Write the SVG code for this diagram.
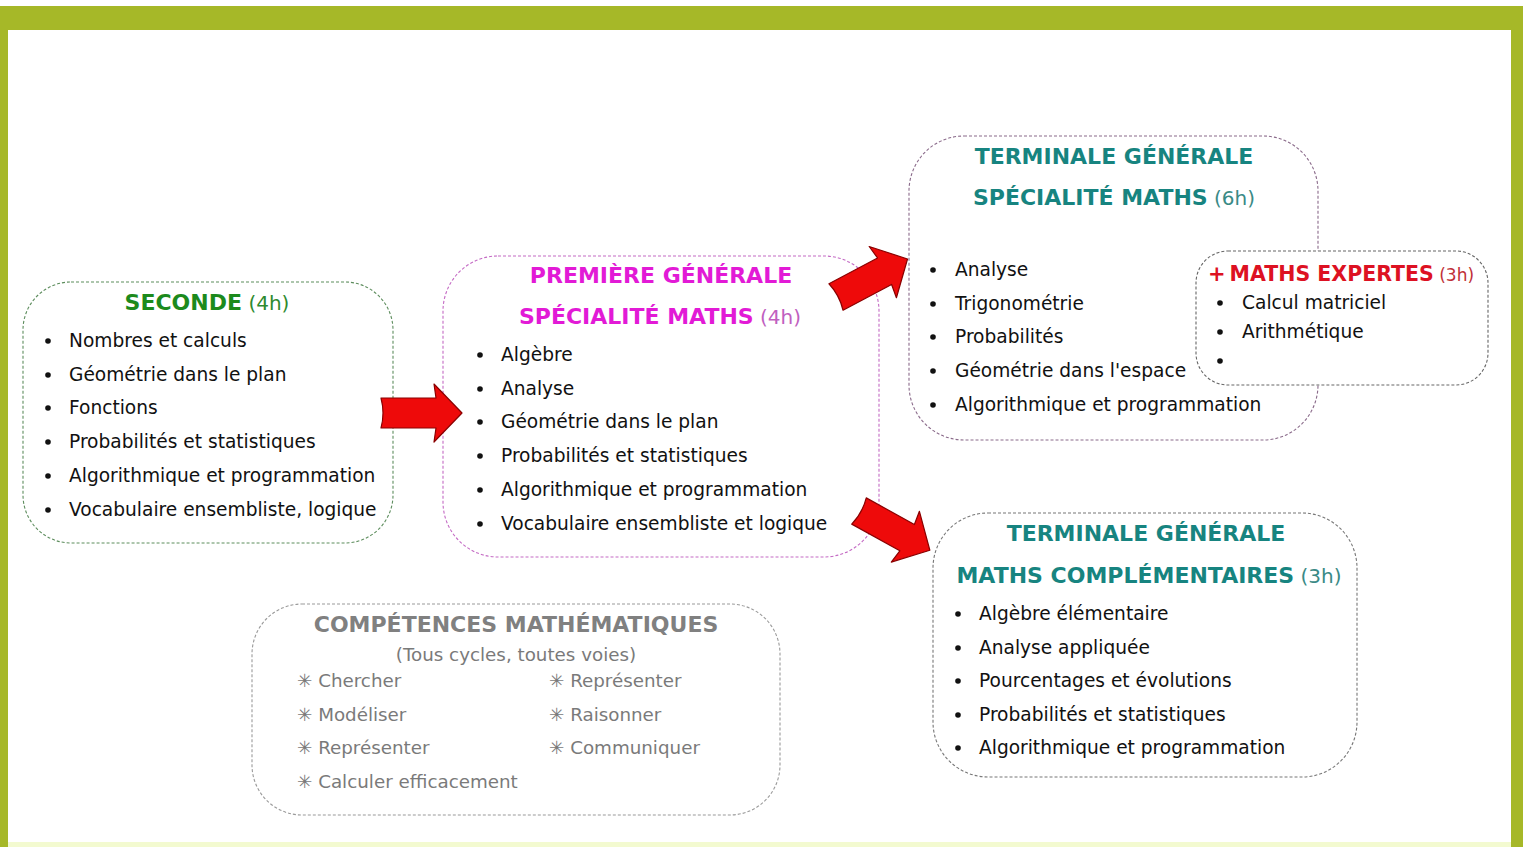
<svg xmlns="http://www.w3.org/2000/svg" width="1523" height="847" viewBox="0 0 1523 847">
<style>
text{font-family:"DejaVu Sans","Verdana",sans-serif}
.it{font-size:18.6px;fill:#111}
.hd{font-size:22px;font-weight:bold}
.hr{font-size:20px;font-weight:normal}
.box{fill:#fff;stroke-width:1.1;stroke-dasharray:3 2}
.bul{fill:#111}
.arrow{fill:#ee0a0a;stroke:#8a0000;stroke-width:1.2;stroke-linejoin:round}
.cp{font-size:18.3px;fill:#7a7a7a}
</style>
<defs>
<path id="arr" d="M0,-15 L55,-15 L53,-29 L81,0 L53,29 L55,15 L0,15 Q4,0 0,-15 Z"/>
</defs>
<rect x="0" y="0" width="1523" height="847" fill="#fff"/>
<rect x="0" y="6" width="1523" height="24" fill="#a6b828"/>
<rect x="0" y="6" width="8" height="841" fill="#a6b828"/>
<rect x="1511" y="6" width="12" height="841" fill="#a6b828"/>
<rect x="8" y="842" width="1503" height="5" fill="#f3fad0"/>

<g id="seconde">
<rect class="box" x="23" y="282" width="370" height="261" rx="48" stroke="#5d8d5d"/>
<text x="207" y="310" text-anchor="middle"><tspan class="hd" fill="#1c8a1c">SECONDE</tspan><tspan class="hr" fill="#2e8a2e"> (4h)</tspan></text>
<circle class="bul" cx="48" cy="341" r="2.8"/><text class="it" x="69" y="347">Nombres et calculs</text>
<circle class="bul" cx="48" cy="375" r="2.8"/><text class="it" x="69" y="381">Géométrie dans le plan</text>
<circle class="bul" cx="48" cy="408" r="2.8"/><text class="it" x="69" y="414">Fonctions</text>
<circle class="bul" cx="48" cy="442" r="2.8"/><text class="it" x="69" y="448">Probabilités et statistiques</text>
<circle class="bul" cx="48" cy="476" r="2.8"/><text class="it" x="69" y="482">Algorithmique et programmation</text>
<circle class="bul" cx="48" cy="510" r="2.8"/><text class="it" x="69" y="516">Vocabulaire ensembliste, logique</text>
</g>

<g id="premiere">
<rect class="box" x="443" y="256" width="436" height="301" rx="55" stroke="#c46ac4"/>
<text class="hd" x="661" y="283" text-anchor="middle" fill="#e21ad6">PREMIÈRE GÉNÉRALE</text>
<text x="660" y="324" text-anchor="middle"><tspan class="hd" fill="#e21ad6">SPÉCIALITÉ MATHS</tspan><tspan class="hr" fill="#c060c0"> (4h)</tspan></text>
<circle class="bul" cx="480" cy="355" r="2.8"/><text class="it" x="501" y="361">Algèbre</text>
<circle class="bul" cx="480" cy="389" r="2.8"/><text class="it" x="501" y="395">Analyse</text>
<circle class="bul" cx="480" cy="422" r="2.8"/><text class="it" x="501" y="428">Géométrie dans le plan</text>
<circle class="bul" cx="480" cy="456" r="2.8"/><text class="it" x="501" y="462">Probabilités et statistiques</text>
<circle class="bul" cx="480" cy="490" r="2.8"/><text class="it" x="501" y="496">Algorithmique et programmation</text>
<circle class="bul" cx="480" cy="524" r="2.8"/><text class="it" x="501" y="530">Vocabulaire ensembliste et logique</text>
</g>

<g id="terminale-specialite">
<rect class="box" x="909" y="136" width="409" height="304" rx="55" stroke="#8a6a8a"/>
<text class="hd" x="1114" y="164" text-anchor="middle" fill="#178480">TERMINALE GÉNÉRALE</text>
<text x="1114" y="205" text-anchor="middle"><tspan class="hd" fill="#178480">SPÉCIALITÉ MATHS</tspan><tspan class="hr" fill="#3a8a86"> (6h)</tspan></text>
<circle class="bul" cx="933" cy="270" r="2.8"/><text class="it" x="955" y="276">Analyse</text>
<circle class="bul" cx="933" cy="304" r="2.8"/><text class="it" x="955" y="310">Trigonométrie</text>
<circle class="bul" cx="933" cy="337" r="2.8"/><text class="it" x="955" y="343">Probabilités</text>
<circle class="bul" cx="933" cy="371" r="2.8"/><text class="it" x="955" y="377">Géométrie dans l'espace</text>
<circle class="bul" cx="933" cy="405" r="2.8"/><text class="it" x="955" y="411">Algorithmique et programmation</text>
</g>

<g id="maths-expertes">
<rect class="box" x="1196" y="251" width="292" height="134" rx="32" stroke="#666"/>
<text x="1208" y="281"><tspan style="font-size:21px;font-weight:bold" fill="#dd1122">+</tspan><tspan dx="4" style="font-size:20.5px;font-weight:bold" fill="#dd1122">MATHS EXPERTES</tspan><tspan style="font-size:17px" fill="#c03038"> (3h)</tspan></text>
<circle class="bul" cx="1220" cy="303" r="2.8"/><text class="it" x="1242" y="309">Calcul matriciel</text>
<circle class="bul" cx="1220" cy="332" r="2.8"/><text class="it" x="1242" y="338">Arithmétique</text>
<circle class="bul" cx="1220" cy="361" r="2.8"/>
</g>

<g id="terminale-complementaires">
<rect class="box" x="933" y="513" width="424" height="264" rx="55" stroke="#777"/>
<text class="hd" x="1146" y="541" text-anchor="middle" fill="#178480">TERMINALE GÉNÉRALE</text>
<text x="1149" y="583" text-anchor="middle"><tspan class="hd" fill="#178480">MATHS COMPLÉMENTAIRES</tspan><tspan class="hr" fill="#3a8a86"> (3h)</tspan></text>
<circle class="bul" cx="958" cy="614" r="2.8"/><text class="it" x="979" y="620">Algèbre élémentaire</text>
<circle class="bul" cx="958" cy="648" r="2.8"/><text class="it" x="979" y="654">Analyse appliquée</text>
<circle class="bul" cx="958" cy="681" r="2.8"/><text class="it" x="979" y="687">Pourcentages et évolutions</text>
<circle class="bul" cx="958" cy="715" r="2.8"/><text class="it" x="979" y="721">Probabilités et statistiques</text>
<circle class="bul" cx="958" cy="748" r="2.8"/><text class="it" x="979" y="754">Algorithmique et programmation</text>
</g>

<g id="competences">
<rect class="box" x="252" y="604" width="528" height="211" rx="50" stroke="#9a9a9a"/>
<text class="hd" x="516" y="632" text-anchor="middle" fill="#808080">COMPÉTENCES MATHÉMATIQUES</text>
<text class="cp" x="516" y="661" text-anchor="middle">(Tous cycles, toutes voies)</text>
<text class="cp" x="297" y="687">✳ Chercher</text>
<text class="cp" x="297" y="721">✳ Modéliser</text>
<text class="cp" x="297" y="754">✳ Représenter</text>
<text class="cp" x="297" y="788">✳ Calculer efficacement</text>
<text class="cp" x="549" y="687">✳ Représenter</text>
<text class="cp" x="549" y="721">✳ Raisonner</text>
<text class="cp" x="549" y="754">✳ Communiquer</text>
</g>

<g id="connectors">
<use href="#arr" class="arrow" transform="translate(381,413)"/>
<use href="#arr" class="arrow" transform="translate(836,297) rotate(-28)"/>
<use href="#arr" class="arrow" transform="translate(859,511) rotate(29)"/>
</g>
</svg>
